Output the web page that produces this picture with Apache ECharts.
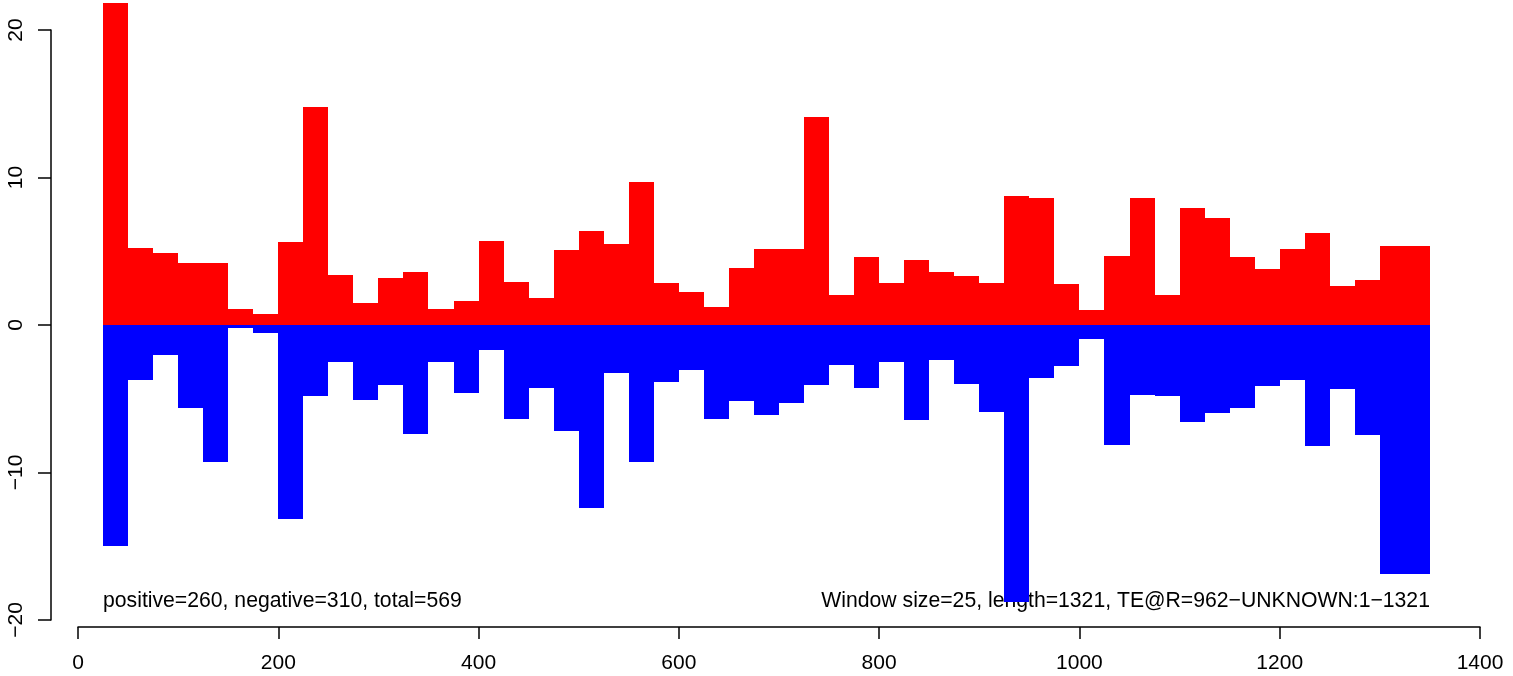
<!DOCTYPE html>
<html>
<head>
<meta charset="utf-8">
<script src="https://cdn.jsdelivr.net/npm/echarts@6/dist/echarts.min.js"></script>
<style>
html,body{margin:0;padding:0;background:#fff;}
#chart{width:1513px;height:676px;}
</style>
</head>
<body>
<div id="chart"></div>
<script>
// ---- data ----
var windowSize = 25;
var binStart = [25,50,75,100,125,150,175,200,225,250,275,300,325,350,375,400,425,450,475,500,
  525,550,575,600,625,650,675,700,725,750,775,800,825,850,875,900,925,950,975,1000,
  1025,1050,1075,1100,1125,1150,1175,1200,1225,1250,1275,1300,1325];
var positiveValues = [21.8,5.25,4.89,4.21,4.21,1.09,0.74,5.66,14.75,3.42,1.50,3.22,3.61,1.09,1.64,5.71,2.92,1.83,5.11,6.34,
  5.46,9.67,2.87,2.24,1.23,3.88,5.16,5.16,14.07,2.05,4.62,2.87,4.43,3.61,3.33,2.87,8.77,8.63,2.79,1.01,
  4.70,8.63,2.05,7.95,7.27,4.62,3.80,5.16,6.26,2.66,3.05,5.34,5.34];
var negativeValues = [-15.0,-3.72,-2.05,-5.60,-9.29,-0.19,-0.57,-13.17,-4.81,-2.49,-5.08,-4.04,-7.38,-2.49,-4.59,-1.69,-6.37,-4.26,-7.19,-12.4,
  -3.25,-9.29,-3.85,-3.03,-6.37,-5.14,-6.09,-5.27,-4.04,-2.68,-4.26,-2.54,-6.42,-2.40,-3.99,-5.87,-18.8,-3.58,-2.81,-0.98,
  -8.14,-4.75,-4.81,-6.56,-5.96,-5.60,-4.13,-3.72,-8.20,-4.33,-7.49,-16.88,-16.88];
var xTicks = [0,200,400,600,800,1000,1200,1400];
var yTicks = [-20,-10,0,10,20];
var leftNote = {x: 25, y: -18.7, text: 'positive=260, negative=310, total=569'};
var rightNote = {x: 1350, y: -18.7, text: 'Window size=25, length=1321, TE@R=962\u2212UNKNOWN:1\u22121321'};

// ---- build ----
var FONT = '"Liberation Sans", Arial, Helvetica, sans-serif';
function pairs(vals){ return binStart.map(function(s,i){ return [s, vals[i]]; }); }

function barRender(color){
  return function(params, api){
    var s = api.value(0), v = api.value(1);
    var p0 = api.coord([s, 0]);
    var p1 = api.coord([s + windowSize, v]);
    var x0 = Math.round(p0[0]), x1 = Math.round(p1[0]);
    var y0 = Math.round(p0[1]), y1 = Math.round(p1[1]);
    return {
      type: 'rect',
      shape: {x: x0, y: Math.min(y0,y1), width: x1 - x0, height: Math.abs(y1 - y0)},
      style: {fill: color}
    };
  };
}

function textRender(note, align){
  return function(params, api){
    var p = api.coord([note.x, note.y]);
    return {
      type: 'text',
      x: p[0], y: p[1],
      style: {text: note.text, fill: '#000', font: '21.2px ' + FONT, align: align, verticalAlign: 'middle'}
    };
  };
}

var chart = echarts.init(document.getElementById('chart'), null, {renderer: 'canvas'});
chart.setOption({
  backgroundColor: '#fff',
  animation: false,
  grid: {left: 78, right: 33, top: 30, bottom: 56, containLabel: false},
  xAxis: {
    type: 'value', min: xTicks[0], max: xTicks[xTicks.length-1], interval: 200,
    offset: 7,
    axisLine: {show: true, onZero: false, lineStyle: {color: '#000', width: 1.5}},
    axisTick: {show: true, length: 12, lineStyle: {color: '#000', width: 1.5}},
    axisLabel: {color: '#000', fontSize: 21, fontFamily: FONT, margin: 26,
      formatter: function(v){ return String(v); }},
    splitLine: {show: false}
  },
  yAxis: {
    type: 'value', min: yTicks[0], max: yTicks[yTicks.length-1], interval: 10,
    offset: 27,
    axisLine: {show: true, onZero: false, lineStyle: {color: '#000', width: 1.5}},
    axisTick: {show: true, length: 13, lineStyle: {color: '#000', width: 1.5}},
    axisLabel: {color: '#000', fontSize: 21, fontFamily: FONT, rotate: 90, margin: 24,
      formatter: function(v){ return String(v).replace('-', '\u2212'); }},
    splitLine: {show: false}
  },
  series: [
    {type: 'custom', name: 'leftNote', data: [[leftNote.x, leftNote.y]], renderItem: textRender(leftNote, 'left'), z: 1, silent: true, clip: false},
    {type: 'custom', name: 'rightNote', data: [[rightNote.x, rightNote.y]], renderItem: textRender(rightNote, 'right'), z: 1, silent: true, clip: false},
    {type: 'custom', name: 'positive', data: pairs(positiveValues), renderItem: barRender('#ff0000'), encode: {x: 0, y: 1}, z: 2, clip: false},
    {type: 'custom', name: 'negative', data: pairs(negativeValues), renderItem: barRender('#0000ff'), encode: {x: 0, y: 1}, z: 2, clip: false}
  ]
});
</script>
</body>
</html>
